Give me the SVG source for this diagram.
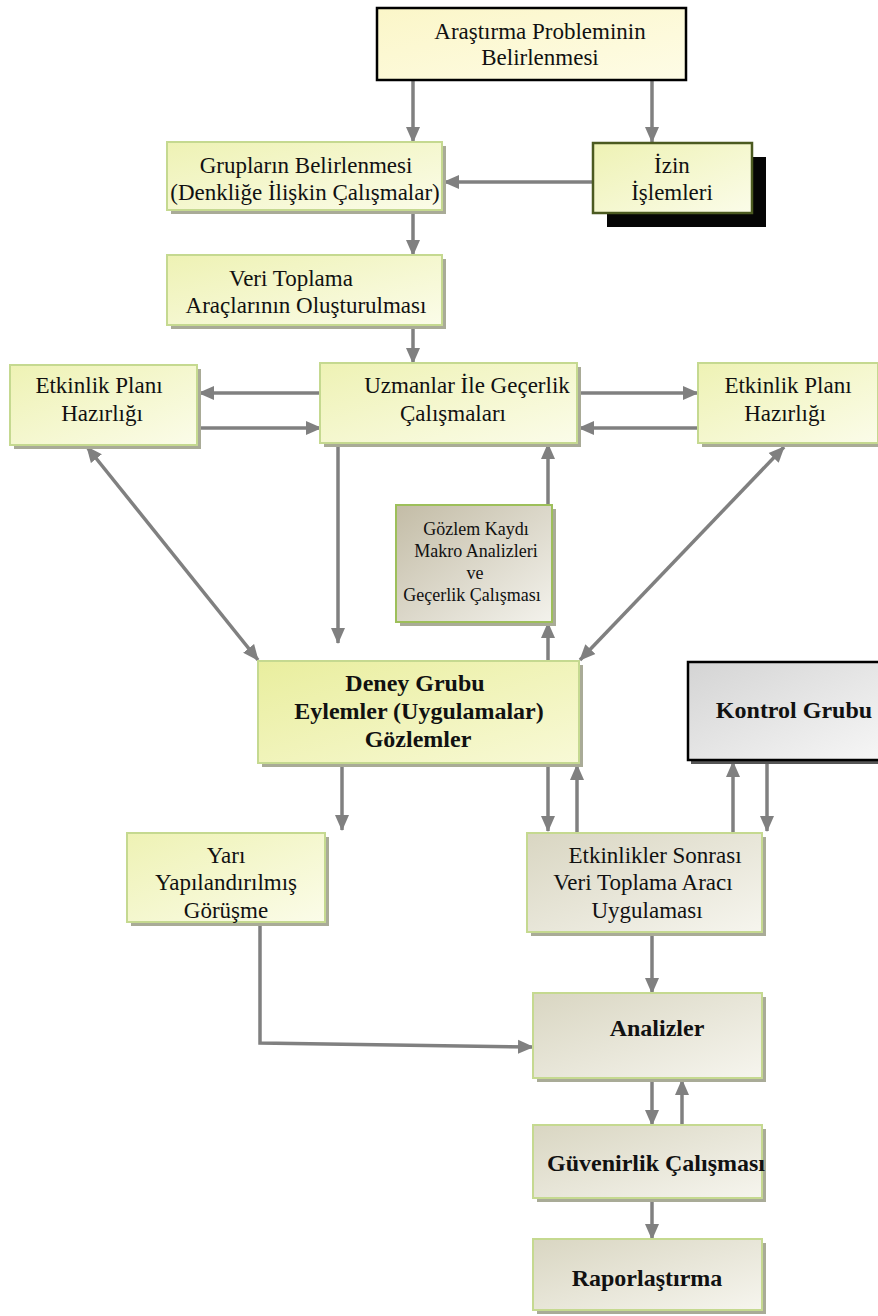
<svg xmlns="http://www.w3.org/2000/svg" width="878" height="1316" viewBox="0 0 878 1316">
  <style>
    .t { font-family: "Liberation Serif", "Times New Roman", serif; font-size: 23px; fill: #111; text-anchor: middle; }
    .b { font-weight: bold; font-size: 24px; }
    .s { font-size: 18px; }
    .conn { stroke: #808080; stroke-width: 3.5; fill: none; }
    .shadow { fill: #a9ab97; }
    .green { stroke: #c5d990; stroke-width: 2; }
    .black { stroke: #000; stroke-width: 2.5; }
  </style>
  <defs>
    <marker id="arrow" markerUnits="userSpaceOnUse" markerWidth="16" markerHeight="16" viewBox="0 0 16 16" refX="15" refY="8" orient="auto-start-reverse">
      <path d="M0,1 L16,8 L0,15 Z" fill="#808080"/>
    </marker>
    <linearGradient id="gYellow" x1="0" y1="0" x2="1" y2="1">
      <stop offset="0" stop-color="#eef2b4"/>
      <stop offset="1" stop-color="#fbfce9"/>
    </linearGradient>
    <linearGradient id="gDeney" x1="0" y1="0" x2="1" y2="1">
      <stop offset="0" stop-color="#e9ee9e"/>
      <stop offset="1" stop-color="#f8f9d6"/>
    </linearGradient>
    <linearGradient id="gTop" x1="0" y1="0" x2="1" y2="1">
      <stop offset="0" stop-color="#fbf6c8"/>
      <stop offset="1" stop-color="#fefce6"/>
    </linearGradient>
    <linearGradient id="gBeige" x1="0" y1="0" x2="1" y2="1">
      <stop offset="0" stop-color="#d9d6c2"/>
      <stop offset="1" stop-color="#f6f5ee"/>
    </linearGradient>
    <linearGradient id="gGozlem" x1="0" y1="0" x2="1" y2="1">
      <stop offset="0" stop-color="#c3bca6"/>
      <stop offset="1" stop-color="#f3f2ec"/>
    </linearGradient>
    <linearGradient id="gGray" x1="0" y1="0" x2="1" y2="1">
      <stop offset="0" stop-color="#d4d4d4"/>
      <stop offset="1" stop-color="#f6f6f6"/>
    </linearGradient>
  </defs>

  <!-- connectors -->
  <g id="connectors">
    <line class="conn" x1="413" y1="81" x2="413" y2="142" marker-end="url(#arrow)"/>
    <line class="conn" x1="652" y1="81" x2="652" y2="142" marker-end="url(#arrow)"/>
    <line class="conn" x1="593" y1="182" x2="444" y2="182" marker-end="url(#arrow)"/>
    <line class="conn" x1="413" y1="212" x2="413" y2="255" marker-end="url(#arrow)"/>
    <line class="conn" x1="413" y1="327" x2="413" y2="363" marker-end="url(#arrow)"/>
    <line class="conn" x1="321" y1="393" x2="199" y2="393" marker-end="url(#arrow)"/>
    <line class="conn" x1="199" y1="428" x2="321" y2="428" marker-end="url(#arrow)"/>
    <line class="conn" x1="578" y1="393" x2="698" y2="393" marker-end="url(#arrow)"/>
    <line class="conn" x1="698" y1="428" x2="579" y2="428" marker-end="url(#arrow)"/>
    <line class="conn" x1="87" y1="447" x2="258" y2="660" marker-start="url(#arrow)" marker-end="url(#arrow)"/>
    <line class="conn" x1="784" y1="447" x2="580" y2="660" marker-start="url(#arrow)" marker-end="url(#arrow)"/>
    <line class="conn" x1="338" y1="444" x2="338" y2="643" marker-end="url(#arrow)"/>
    <line class="conn" x1="548" y1="661" x2="548" y2="623" marker-end="url(#arrow)"/>
    <line class="conn" x1="548" y1="504" x2="548" y2="444" marker-end="url(#arrow)"/>
    <line class="conn" x1="342" y1="765" x2="342" y2="830" marker-end="url(#arrow)"/>
    <line class="conn" x1="548" y1="765" x2="548" y2="831" marker-end="url(#arrow)"/>
    <line class="conn" x1="577" y1="833" x2="577" y2="765" marker-end="url(#arrow)"/>
    <line class="conn" x1="733" y1="833" x2="733" y2="762" marker-end="url(#arrow)"/>
    <line class="conn" x1="767" y1="762" x2="767" y2="831" marker-end="url(#arrow)"/>
    <polyline class="conn" points="260,924 260,1043 533,1047" marker-end="url(#arrow)"/>
    <line class="conn" x1="652" y1="934" x2="652" y2="993" marker-end="url(#arrow)"/>
    <line class="conn" x1="652" y1="1081" x2="652" y2="1125" marker-end="url(#arrow)"/>
    <line class="conn" x1="682" y1="1125" x2="682" y2="1080" marker-end="url(#arrow)"/>
    <line class="conn" x1="652" y1="1200" x2="652" y2="1239" marker-end="url(#arrow)"/>
  </g>

  <!-- nodes -->
  <g id="n-problem">
    <rect x="377" y="8" width="309" height="72" fill="url(#gTop)" class="black"/>
    <text class="t" x="540" y="39">Araştırma Probleminin</text>
    <text class="t" x="540" y="65">Belirlenmesi</text>
  </g>

  <g id="n-gruplar">
    <rect class="shadow" x="171" y="146" width="275" height="68"/>
    <rect x="167" y="142" width="275" height="68" fill="url(#gYellow)" class="green"/>
    <text class="t" x="306" y="173">Grupların Belirlenmesi</text>
    <text class="t" x="305" y="200">(Denkliğe İlişkin Çalışmalar)</text>
  </g>

  <g id="n-izin">
    <rect x="607" y="157" width="159" height="70" fill="#050505"/>
    <rect x="593" y="143" width="159" height="70" fill="url(#gYellow)" stroke="#4b5a20" stroke-width="2.5"/>
    <text class="t" x="672" y="173">İzin</text>
    <text class="t" x="672" y="200">İşlemleri</text>
  </g>

  <g id="n-veri">
    <rect class="shadow" x="171" y="259" width="275" height="70"/>
    <rect x="167" y="255" width="275" height="70" fill="url(#gYellow)" class="green"/>
    <text class="t" x="291" y="286">Veri Toplama</text>
    <text class="t" x="306" y="313">Araçlarının Oluşturulması</text>
  </g>

  <g id="n-uzmanlar">
    <rect class="shadow" x="324" y="367" width="257" height="80"/>
    <rect x="320" y="363" width="257" height="80" fill="url(#gYellow)" class="green"/>
    <text class="t" x="467" y="393">Uzmanlar İle Geçerlik</text>
    <text class="t" x="453" y="421">Çalışmaları</text>
  </g>

  <g id="n-etkinlik-sol">
    <rect class="shadow" x="14" y="369" width="187" height="80"/>
    <rect x="10" y="365" width="187" height="80" fill="url(#gYellow)" class="green"/>
    <text class="t" x="99" y="393">Etkinlik Planı</text>
    <text class="t" x="102" y="421">Hazırlığı</text>
  </g>

  <g id="n-etkinlik-sag">
    <rect class="shadow" x="702" y="367" width="180" height="80"/>
    <rect x="698" y="363" width="180" height="80" fill="url(#gYellow)" class="green"/>
    <text class="t" x="788" y="393">Etkinlik Planı</text>
    <text class="t" x="785" y="421">Hazırlığı</text>
  </g>

  <g id="n-gozlem">
    <rect class="shadow" x="400" y="509" width="156" height="117"/>
    <rect x="396" y="505" width="156" height="117" fill="url(#gGozlem)" stroke="#9dbf5a" stroke-width="2"/>
    <text class="t s" x="476" y="535">Gözlem Kaydı</text>
    <text class="t s" x="476" y="557">Makro Analizleri</text>
    <text class="t s" x="475" y="579">ve</text>
    <text class="t s" x="472" y="601">Geçerlik Çalışması</text>
  </g>

  <g id="n-deney">
    <rect class="shadow" x="262" y="665" width="321" height="102"/>
    <rect x="258" y="661" width="321" height="102" fill="url(#gDeney)" class="green"/>
    <text class="t b" x="415" y="691">Deney Grubu</text>
    <text class="t b" x="419" y="719">Eylemler (Uygulamalar)</text>
    <text class="t b" x="418" y="747">Gözlemler</text>
  </g>

  <g id="n-kontrol">
    <rect x="691" y="665" width="190" height="99" fill="#555"/>
    <rect x="688" y="662" width="192" height="98" fill="url(#gGray)" class="black"/>
    <text class="t b" x="794" y="718">Kontrol Grubu</text>
  </g>

  <g id="n-yari">
    <rect class="shadow" x="131" y="837" width="198" height="89"/>
    <rect x="127" y="833" width="198" height="89" fill="url(#gYellow)" class="green"/>
    <text class="t" x="226" y="863">Yarı</text>
    <text class="t" x="226" y="890">Yapılandırılmış</text>
    <text class="t" x="226" y="918">Görüşme</text>
  </g>

  <g id="n-sonrasi">
    <rect class="shadow" x="531" y="837" width="235" height="99"/>
    <rect x="527" y="833" width="235" height="99" fill="url(#gBeige)" class="green"/>
    <text class="t" x="655" y="863">Etkinlikler Sonrası</text>
    <text class="t" x="643" y="890">Veri Toplama Aracı</text>
    <text class="t" x="647" y="918">Uygulaması</text>
  </g>

  <g id="n-analizler">
    <rect class="shadow" x="537" y="997" width="229" height="85"/>
    <rect x="533" y="993" width="229" height="85" fill="url(#gBeige)" class="green"/>
    <text class="t b" x="657" y="1036">Analizler</text>
  </g>

  <g id="n-guvenirlik">
    <rect class="shadow" x="537" y="1129" width="229" height="73"/>
    <rect x="533" y="1125" width="229" height="73" fill="url(#gBeige)" class="green"/>
    <text class="t b" x="656" y="1171">Güvenirlik Çalışması</text>
  </g>

  <g id="n-rapor">
    <rect class="shadow" x="537" y="1243" width="229" height="71"/>
    <rect x="533" y="1239" width="229" height="71" fill="url(#gBeige)" class="green"/>
    <text class="t b" x="647" y="1286">Raporlaştırma</text>
  </g>
</svg>
